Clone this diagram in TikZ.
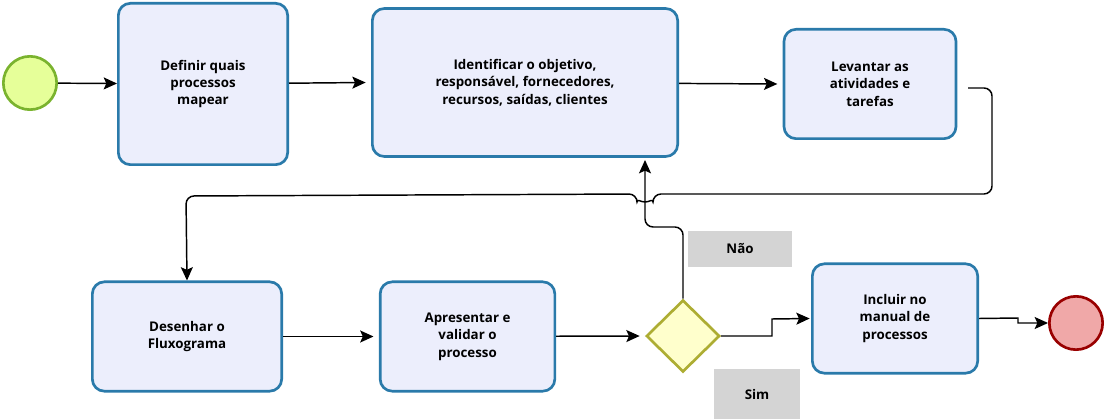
\documentclass[tikz,border=0pt]{standalone}
\usepackage{fontspec}
\setmainfont{Open Sans}
\usetikzlibrary{arrows.meta,shapes.geometric}
\definecolor{boxfill}{HTML}{ECEEFC}
\definecolor{boxline}{HTML}{2A7AAA}
\definecolor{labgray}{HTML}{D4D4D4}
\tikzset{
  task/.style={draw=boxline,fill=boxfill,line width=2pt,rounded corners=9pt,align=center,
    font=\fontsize{10}{13}\selectfont\bfseries,inner sep=0pt},
  flow/.style={line width=1.1pt,-{Stealth[length=10pt,width=9pt,inset=2pt]}},
  lab/.style={fill=labgray,font=\fontsize{10}{13}\selectfont\bfseries,inner sep=0pt}
}
\begin{document}
\begin{tikzpicture}[x=0.75pt,y=0.75pt,yscale=-1,xscale=1]
\useasboundingbox (0,0) rectangle (1106,420);

%Start and end events
\node (start) [circle,draw={rgb,255:red,122;green,179;blue,46},fill={rgb,255:red,230;green,255;blue,153},line width=2pt,minimum size=40pt,inner sep=0pt] at (30,83) {};
\node (stop) [circle,draw={rgb,255:red,153;green,0;blue,0},fill={rgb,255:red,240;green,168;blue,168},line width=2pt,minimum size=40pt,inner sep=0pt] at (1076,323) {};

%Tasks
\node (choose) [task,minimum width=127pt,minimum height=121pt] at (203,84) {Definir quais\\processos\\mapear};
\node (ident) [task,minimum width=229pt,minimum height=111pt] at (525,82.5) {Identificar o objetivo,\\responsável, fornecedores,\\recursos, saídas, clientes};
\node (survey) [task,minimum width=129pt,minimum height=82pt] at (870,84) {Levantar as\\atividades e\\tarefas};
\node (draft) [task,minimum width=142pt,minimum height=82pt] at (187,336.5) {Desenhar o\\Fluxograma};
\node (present) [task,minimum width=131pt,minimum height=82pt] at (467.5,336.5) {Apresentar e\\validar o\\processo};
\node (include) [task,minimum width=124pt,minimum height=82pt] at (895,318.5) {Incluir no\\manual de\\processos};

%Gateway
\node (gate) [diamond,draw={rgb,255:red,173;green,173;blue,51},fill={rgb,255:red,255;green,255;blue,204},line width=2pt,minimum width=55pt,minimum height=54pt,inner sep=0pt] at (683,336) {};

%Labels
\node (no) [lab,minimum width=78pt,minimum height=27pt] at (740,249) {Não};
\node (yes) [lab,minimum width=64pt,minimum height=38pt] at (757,394) {Sim};

%Connectors
\coordinate (cfrom) at (968,88);
\draw[flow] (start) -- (choose);
\draw[flow] (choose) -- ([xshift=-4pt]ident.west);
\draw[flow] (ident) -- ([xshift=-4pt]survey.west);
\draw[flow,rounded corners=6pt] (cfrom) -- (992,88) -- (992,194) -- (653,194)
  arc (0:180:8) -- (186,196) -- (draft.north);
\draw[flow,rounded corners=6pt] (gate.north) -- (683,227) -- (645,227) -- (645,160);
\draw[flow] (draft) -- ([xshift=-4pt]present.west);
\draw[flow] (present) -- ([xshift=-4pt]gate.west);
\draw[flow] (gate.east) -- (772,336) -- (772,319) -- ([xshift=-1pt]include.west);
\draw[flow] (include.east) -- (1018,318) -- (1018,323) -- (stop.west);
\end{tikzpicture}
\end{document}
